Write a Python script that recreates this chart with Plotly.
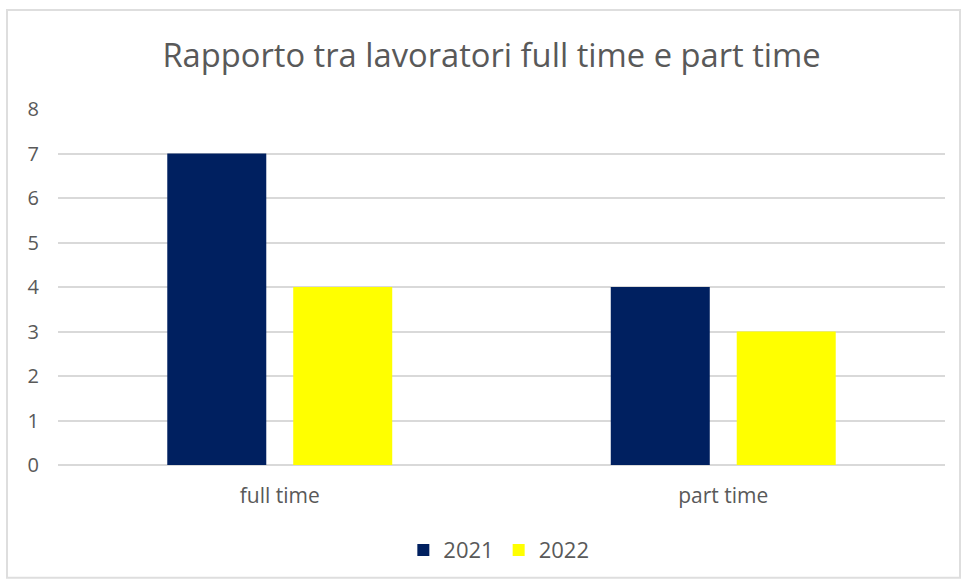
import plotly.graph_objects as go

categorie = ["full time", "part time"]
anni = ["2021", "2022"]
valori_2021 = [7, 4]
valori_2022 = [4, 3]

colori = {"2021": "#002060", "2022": "#FFFF00"}

fig = go.Figure()
for anno, valori in zip(anni, [valori_2021, valori_2022]):
    fig.add_trace(go.Bar(
        x=categorie,
        y=valori,
        name=anno,
        marker=dict(color=colori[anno], line=dict(width=0)),
    ))

fig.update_layout(
    title=dict(
        text="Rapporto tra lavoratori full time e part time",
        x=0.511, xanchor="center",
        y=0.905, yanchor="middle",
        font=dict(family="Open Sans", size=32.7, color="#595959"),
    ),
    barmode="group",
    bargap=0.432,
    bargroupgap=0.214,
    width=962,
    height=585,
    margin=dict(l=58, r=17, t=109, b=120),
    paper_bgcolor="white",
    plot_bgcolor="white",
    font=dict(family="Open Sans", color="#595959"),
    xaxis=dict(
        showgrid=False,
        showline=False,
        ticks="",
        tickfont=dict(size=21, color="#595959"),
        ticklabelstandoff=16,
    ),
    yaxis=dict(
        range=[0, 8],
        dtick=1,
        showgrid=True,
        gridcolor="#D9D9D9",
        gridwidth=1.5,
        zeroline=True,
        zerolinecolor="#D9D9D9",
        zerolinewidth=1.5,
        showline=False,
        ticks="",
        tickfont=dict(size=20, color="#595959"),
        ticklabelstandoff=18,
    ),
    legend=dict(
        orientation="h",
        x=0.497, xanchor="center",
        y=-0.239, yanchor="middle",
        font=dict(size=22, color="#595959"),
        itemwidth=30,
    ),
    shapes=[dict(
        type="rect", xref="paper", yref="paper",
        x0=-0.0575, x1=1.0169, y0=-0.317, y1=1.278,
        line=dict(color="#DEDEDE", width=2),
        fillcolor="rgba(0,0,0,0)",
        layer="below",
    )],
)

fig.write_html(
    "out.html",
    config={"displayModeBar": False},
    post_script="document.body.style.margin='0';",
)
